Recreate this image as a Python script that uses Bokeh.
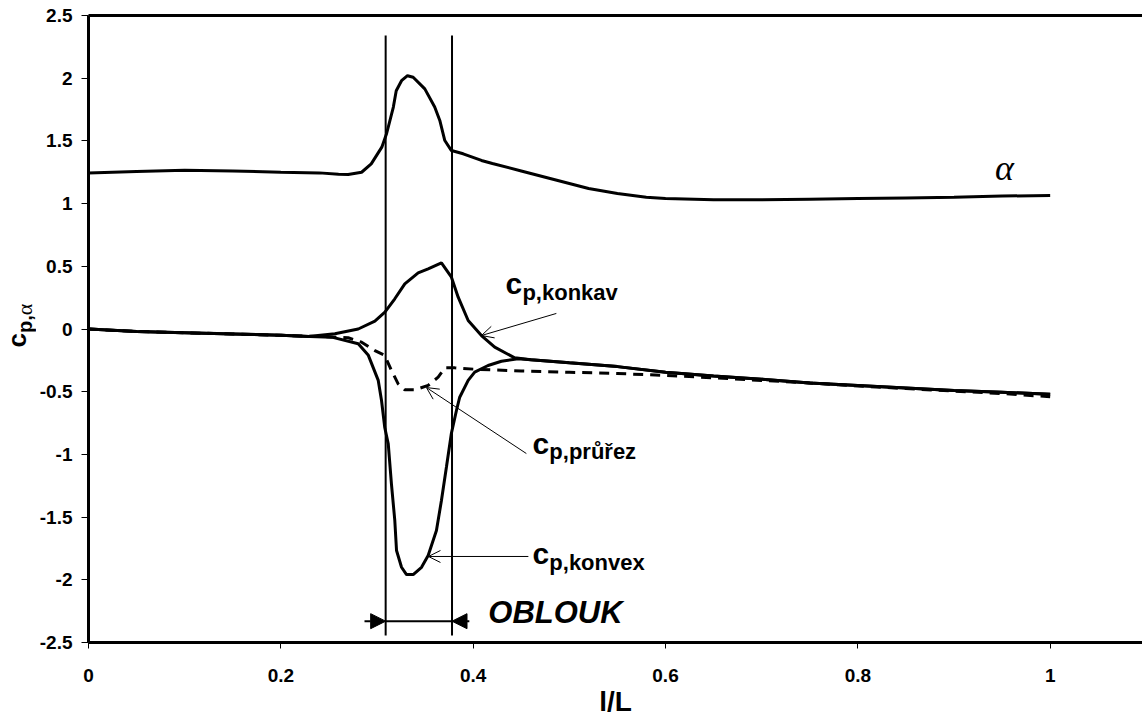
import math
from bokeh.plotting import figure
from bokeh.layouts import row
from bokeh.core.properties import value
from bokeh.models import (Range1d, FixedTicker, LinearAxis, Label, Arrow,
                          NormalHead, OpenHead, PrintfTickFormatter)
from bokeh.embed import file_html
from bokeh.resources import INLINE

# ---------------- data ----------------
alpha_x = [0, 0.05, 0.1, 0.15, 0.2, 0.24, 0.26, 0.27, 0.284, 0.294, 0.305, 0.31,
           0.317, 0.32, 0.3255, 0.3317, 0.3376, 0.3497, 0.36, 0.3653, 0.3705,
           0.3774, 0.3896, 0.4086, 0.42, 0.45, 0.48, 0.50, 0.52, 0.55, 0.58,
           0.60, 0.65, 0.70, 0.75, 0.80, 0.85, 0.90, 0.95, 1.0]
alpha_y = [1.245, 1.255, 1.265, 1.26, 1.25, 1.245, 1.235, 1.232, 1.25, 1.317,
           1.45, 1.559, 1.77, 1.90, 1.98, 2.02, 2.008, 1.915, 1.77, 1.663,
           1.503, 1.423, 1.397, 1.344, 1.32, 1.26, 1.20, 1.16, 1.12, 1.08,
           1.05, 1.04, 1.03, 1.03, 1.035, 1.04, 1.045, 1.05, 1.06, 1.065]

konkav_x = [0, 0.05, 0.1, 0.15, 0.2, 0.2286, 0.2562, 0.2805, 0.2978, 0.3082,
            0.3185, 0.3289, 0.3428, 0.3532, 0.367, 0.3774, 0.3844, 0.3948,
            0.4086, 0.4224, 0.4432, 0.46, 0.5, 0.55, 0.6, 0.65, 0.7, 0.75,
            0.8, 0.85, 0.9, 0.95, 1.0]
konkav_y = [0, -0.02, -0.03, -0.04, -0.05, -0.06, -0.038, 0.0, 0.062, 0.134,
            0.241, 0.36, 0.448, 0.48, 0.528, 0.413, 0.254, 0.068, -0.052,
            -0.145, -0.23, -0.245, -0.27, -0.30, -0.345, -0.375, -0.40,
            -0.43, -0.45, -0.47, -0.49, -0.505, -0.52]

konvex_x = [0, 0.05, 0.1, 0.15, 0.2, 0.23, 0.253, 0.2805, 0.291, 0.3013,
            0.3047, 0.308, 0.3117, 0.315, 0.3185, 0.3203, 0.3255, 0.3307,
            0.3376, 0.3463, 0.3532, 0.3618, 0.367, 0.3722, 0.3774, 0.3826,
            0.386, 0.3948, 0.4016, 0.4155, 0.4294, 0.4467, 0.46, 0.5, 0.55,
            0.6, 0.65, 0.7, 0.75, 0.8, 0.85, 0.9, 0.95, 1.0]
konvex_y = [0, -0.02, -0.03, -0.04, -0.05, -0.06, -0.065, -0.118, -0.21,
            -0.41, -0.57, -0.783, -0.916, -1.235, -1.527, -1.766, -1.90,
            -1.958, -1.958, -1.90, -1.806, -1.607, -1.368, -1.10, -0.83,
            -0.65, -0.544, -0.41, -0.344, -0.291, -0.257, -0.238, -0.245,
            -0.27, -0.30, -0.345, -0.375, -0.40, -0.43, -0.45, -0.47, -0.49,
            -0.505, -0.52]

prurez_x = [0, 0.05, 0.1, 0.15, 0.2, 0.24, 0.27, 0.284, 0.2978, 0.308, 0.315,
            0.322, 0.3289, 0.3393, 0.3532, 0.3636, 0.3705, 0.381, 0.40, 0.45,
            0.5, 0.55, 0.6, 0.637, 0.7, 0.75, 0.8, 0.85, 0.9, 0.95, 1.0]
prurez_y = [0, -0.02, -0.03, -0.04, -0.05, -0.06, -0.07, -0.105, -0.172,
            -0.21, -0.33, -0.437, -0.485, -0.485, -0.45, -0.384, -0.31, -0.31,
            -0.32, -0.335, -0.345, -0.355, -0.37, -0.384, -0.41, -0.43,
            -0.455, -0.475, -0.495, -0.515, -0.54]

oblouk_start = 0.309
oblouk_end = 0.378

x_ticks = [0, 0.2, 0.4, 0.6, 0.8, 1.0]
y_ticks = [-2.5, -2, -1.5, -1, -0.5, 0, 0.5, 1, 1.5, 2, 2.5]

FONT = "Liberation Sans"

# ---------------- y-axis title strip (frame aligned with main frame) ----------
ylab = figure(width=36, height=720, output_backend="svg", toolbar_location=None,
              x_range=Range1d(0, 36), y_range=Range1d(0, 627),
              x_axis_location=None, y_axis_location=None, min_border=0)
ylab.outline_line_color = None
ylab.xgrid.visible = False
ylab.ygrid.visible = False

ylab.text(x=[16], y=[295], text=["c"], angle=90, angle_units="deg",
          text_font=value(FONT), text_font_style="bold", text_font_size="26px",
          text_color="black", text_align="left", text_baseline="middle")
ylab.text(x=[24], y=[309.5], text=["p,"], angle=90, angle_units="deg",
          text_font=value(FONT), text_font_style="bold", text_font_size="20px",
          text_color="black", text_align="left", text_baseline="middle")
ylab.text(x=[24], y=[327.3], text=["α"], angle=90, angle_units="deg",
          text_font=value("Liberation Serif"), text_font_style="normal",
          text_font_size="22px", text_color="black", text_align="left",
          text_baseline="middle")

# ---------------- main figure ----------------
p = figure(width=1106, height=720, output_backend="svg", toolbar_location=None,
           x_range=Range1d(0, 1.096), y_range=Range1d(-2.5, 2.5),
           min_border_left=51, min_border_right=0, min_border_top=15,
           min_border_bottom=78)
p.outline_line_color = None
p.xgrid.grid_line_color = None
p.ygrid.grid_line_color = None

for ax, ticks, tout in ((p.xaxis[0], x_ticks, 6), (p.yaxis[0], y_ticks, 7)):
    ax.ticker = FixedTicker(ticks=ticks)
    ax.formatter = PrintfTickFormatter(format="%g")
    ax.axis_line_width = 3
    ax.axis_line_color = "black"
    ax.major_tick_line_color = "black"
    ax.major_tick_line_width = 1
    ax.major_tick_out = tout
    ax.major_tick_in = 0
    ax.minor_tick_line_color = None
    ax.major_label_text_font = FONT
    ax.major_label_text_font_style = "bold"
    ax.major_label_text_font_size = "19px"
    ax.major_label_text_color = "black"
p.xaxis[0].major_label_standoff = 20
p.yaxis[0].major_label_standoff = 9
p.xaxis[0].axis_label = "l/L"
p.xaxis[0].axis_label_text_font = FONT
p.xaxis[0].axis_label_text_font_style = "bold"
p.xaxis[0].axis_label_text_font_size = "28px"
p.xaxis[0].axis_label_text_color = "black"
p.xaxis[0].axis_label_standoff = 1

top_axis = LinearAxis(ticker=FixedTicker(ticks=[]), axis_line_width=3,
                      axis_line_color="black", major_tick_out=0, major_tick_in=0,
                      minor_tick_out=0, minor_tick_in=0,
                      major_label_text_font_size="0px")
p.add_layout(top_axis, "above")

# ---------------- curves ----------------
p.line(prurez_x, prurez_y, line_color="black", line_width=3, line_dash="10 7")
p.line(alpha_x, alpha_y, line_color="black", line_width=3)
p.line(konkav_x, konkav_y, line_color="black", line_width=3)
p.line(konvex_x, konvex_y, line_color="black", line_width=3)

# vertical OBLOUK borders
p.segment(x0=[oblouk_start, oblouk_end], y0=[-2.444, -2.444],
          x1=[oblouk_start, oblouk_end], y1=[2.34, 2.34],
          line_color="black", line_width=2)
# dimension line with arrows
p.segment(x0=[oblouk_start], y0=[-2.33], x1=[oblouk_end], y1=[-2.33],
          line_color="black", line_width=2)
p.add_layout(Arrow(end=NormalHead(size=15, fill_color="black", line_color="black"),
                   x_start=0.287, y_start=-2.33, x_end=oblouk_start, y_end=-2.33,
                   line_width=2, line_color="black"))
p.add_layout(Arrow(end=NormalHead(size=15, fill_color="black", line_color="black"),
                   x_start=0.396, y_start=-2.33, x_end=oblouk_end, y_end=-2.33,
                   line_width=2, line_color="black"))

# pointer arrows
for xs, ys, xe, ye in ((0.4865, 0.124, 0.4086, -0.052),
                       (0.4553, -0.993, 0.3514, -0.467),
                       (0.4574, -1.814, 0.3535, -1.814)):
    p.add_layout(Arrow(end=OpenHead(size=12, line_width=1, line_color="black"),
                       x_start=xs, y_start=ys, x_end=xe, y_end=ye,
                       line_width=1, line_color="black"))


# ---------------- texts ----------------
def lab(x, y, text, size, font=FONT, style="bold", align="left"):
    p.add_layout(Label(x=x, y=y, text=text, text_font=font,
                       text_font_style=style, text_font_size=size,
                       text_color="black", text_baseline="middle",
                       text_align=align))


lab(0.4335, 0.366, "c", "30px")
lab(0.4512, 0.288, "p,konkav", "22px")
lab(0.4616, -0.910, "c", "30px")
lab(0.4792, -0.980, "p,průřez", "22px")
lab(0.4616, -1.787, "c", "30px")
lab(0.4792, -1.865, "p,konvex", "22px")

lab(0.9426, 1.280, "α", "36px", font="Liberation Serif", style="italic")
lab(0.4157, -2.261, "OBLOUK", "31px", style="bold italic")

layout = row(ylab, p)
open("out.html", "w").write(file_html(layout, INLINE))
